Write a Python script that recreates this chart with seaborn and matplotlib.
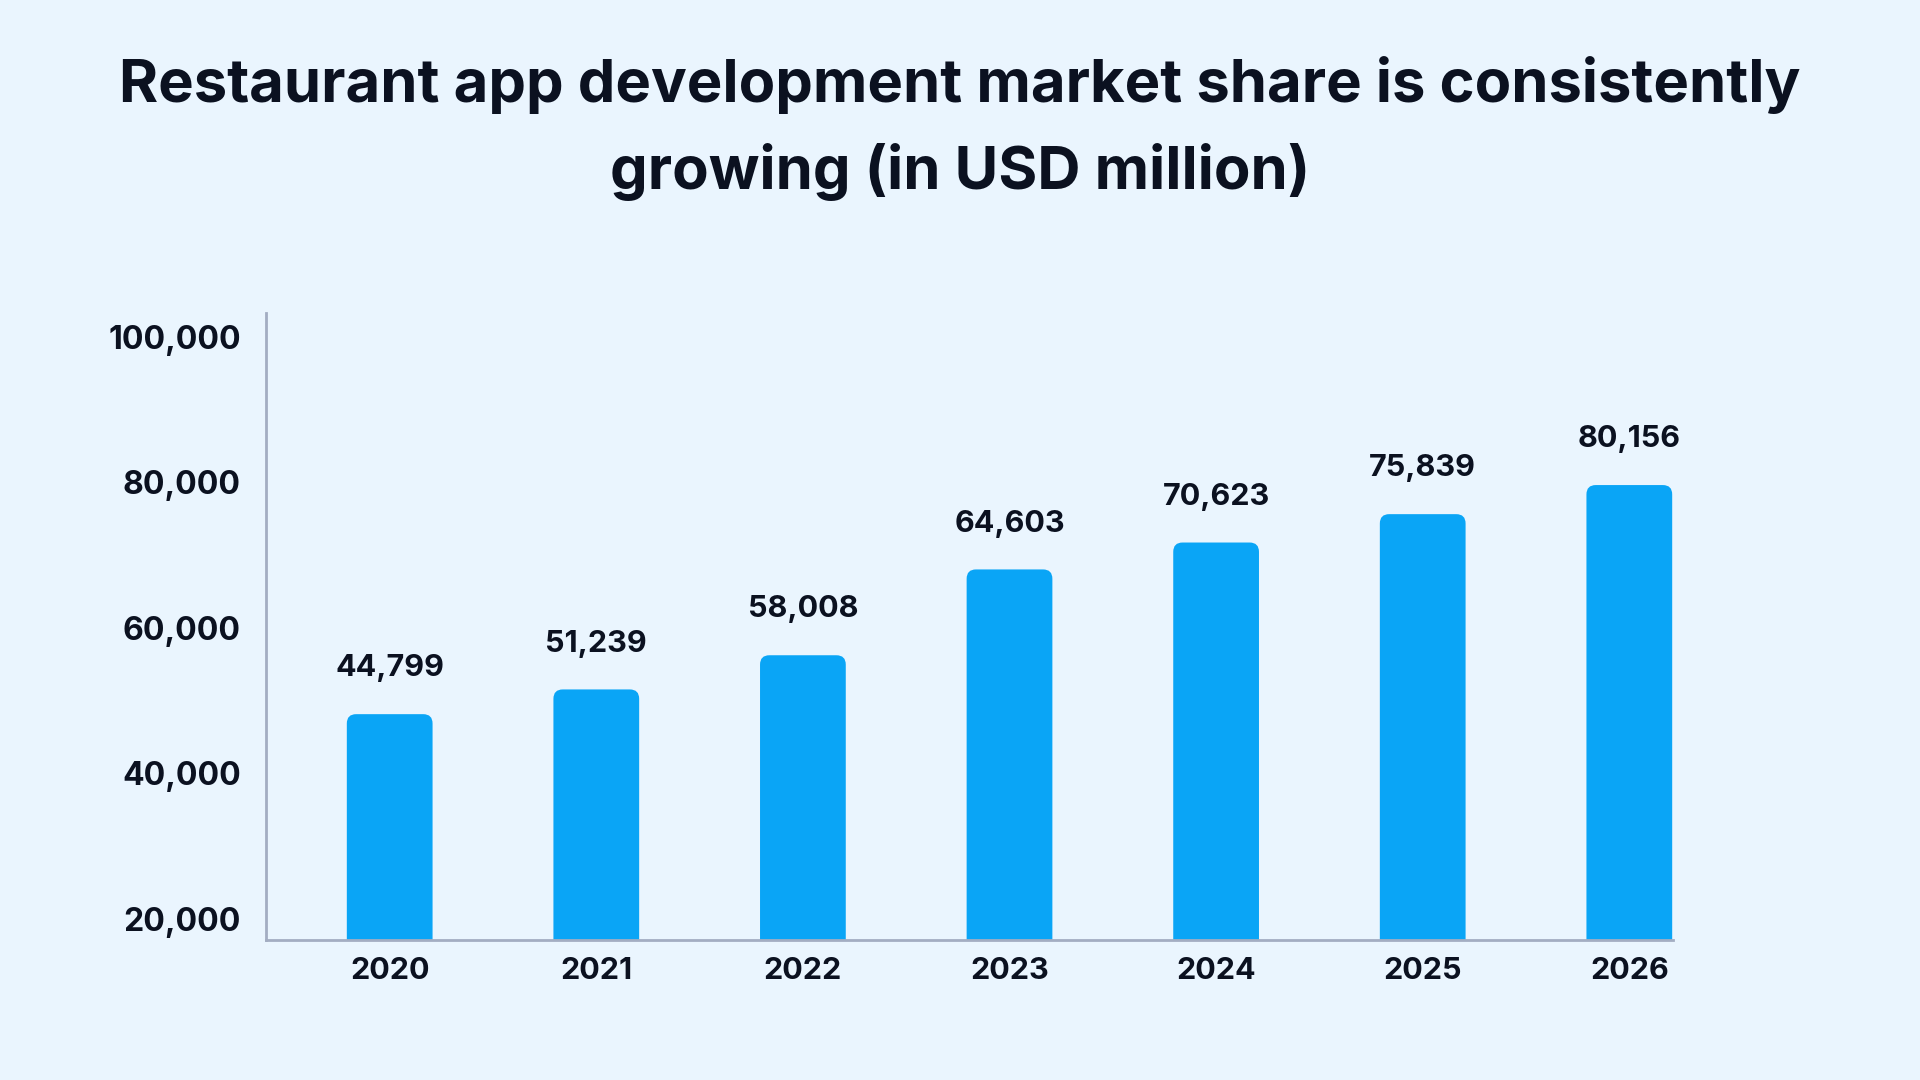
import numpy as np
import pandas as pd
import seaborn as sns
from matplotlib import pyplot as plt
from matplotlib.patches import FancyBboxPatch

years = ['2020', '2021', '2022', '2023', '2024', '2025', '2026']
# bar heights as drawn in the picture (they do not match the printed labels)
bar_values = [48100, 51500, 56200, 68000, 71700, 75600, 79600]
value_labels = ['44,799', '51,239', '58,008', '64,603', '70,623', '75,839', '80,156']
y_ticks = [20000, 40000, 60000, 80000, 100000]

bg = '#EAF5FE'
bar_color = '#0AA5F6'
text_color = '#0B1120'
spine_color = '#A3ADC2'

sns.set_theme(style='white')
plt.rcParams['font.family'] = ['Inter', 'DejaVu Sans']

df = pd.DataFrame({'year': years, 'value': bar_values})

fig = plt.figure(figsize=(19.2, 10.8), dpi=100, facecolor=bg)
ax = fig.add_axes([0.1384, 0.1293, 0.8712 - 0.1384, 0.7098 - 0.1293])
ax.set_facecolor(bg)

sns.barplot(data=df, x='year', y='value', color=bar_color, width=0.415,
            saturation=1, ax=ax)

ax.set_xlim(-0.6, 6.21)
ax.set_ylim(17000, 103200)

# round the top corners of the bars
fig.canvas.draw()
p0 = ax.transData.transform((0, 0))
p1 = ax.transData.transform((1, 1000))
aspect = (1000 / (p1[1] - p0[1])) / (1 / (p1[0] - p0[0]))
for p in list(ax.patches):
    x, y = p.get_x(), p.get_y()
    w, h = p.get_width(), p.get_height()
    p.remove()
    ax.add_patch(FancyBboxPatch((x, y), w, h,
                                boxstyle='round,pad=0,rounding_size=0.045',
                                mutation_aspect=aspect, facecolor=bar_color,
                                edgecolor='none', clip_on=True))

for i, lab in enumerate(value_labels):
    ax.annotate(lab, (i, bar_values[i]), xytext=(0, 33), textcoords='offset points',
                ha='center', va='center', fontsize=22, fontweight='bold',
                color=text_color)

ax.set_yticks(y_ticks)
ax.set_yticklabels([f'{v:,}' for v in y_ticks])
ax.tick_params(axis='y', length=0, pad=18, labelsize=23, labelcolor=text_color)
ax.tick_params(axis='x', length=0, pad=12, labelsize=22, labelcolor=text_color)
for lab in ax.get_xticklabels() + ax.get_yticklabels():
    lab.set_fontweight('bold')
ax.set_xlabel('')
ax.set_ylabel('')

for side in ['top', 'right']:
    ax.spines[side].set_visible(False)
for side in ['left', 'bottom']:
    ax.spines[side].set_color(spine_color)
    ax.spines[side].set_linewidth(2)

fig.text(0.5, 0.921, 'Restaurant app development market share is consistently',
         ha='center', va='center', fontsize=43, fontweight='bold', color=text_color)
fig.text(0.5, 0.841, 'growing (in USD million)',
         ha='center', va='center', fontsize=43, fontweight='bold', color=text_color)

fig.savefig('out.png', dpi=100, facecolor=bg)
